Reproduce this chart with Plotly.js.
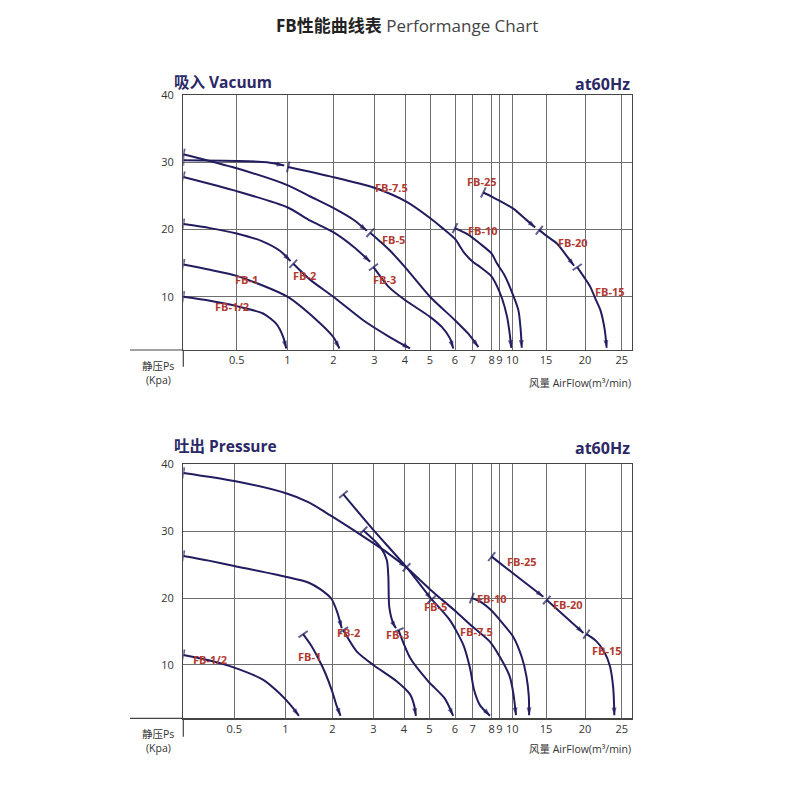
<!DOCTYPE html>
<html><head><meta charset="utf-8">
<script src="https://cdn.plot.ly/plotly-3.0.1.min.js"></script>
<style>html,body{margin:0;padding:0;background:#fff}#chart{width:800px;height:800px}</style>
</head><body><div id="chart"></div>
<script>
// ---- axis ticks ----
const flowTicks = [0, 0.5, 1, 2, 3, 4, 5, 6, 7, 8, 9, 10, 15, 20, 25];
const tickLabels = ['', '0.5', '1', '2', '3', '4', '5', '6', '7', '8', '9', '10', '15', '20', '25'];
const kpaTicks = [10, 20, 30, 40];

// ---- Vacuum (吸入) curves: airflow m³/min, static pressure kPa ----
const vacFB05Flow = [0, 0.25, 0.5, 0.76, 0.89, 0.96, 0.99];
const vacFB05Kpa  = [10, 9.4, 8.6, 7.5, 6.0, 4.0, 2.3];
const vacFB1Flow  = [0, 0.25, 0.5, 1.0, 1.64, 2.0, 2.15];
const vacFB1Kpa   = [14.8, 14.0, 13.1, 10.0, 6.5, 4.0, 2.3];
const vacA2Flow   = [0, 0.25, 0.5, 0.76, 0.93, 1.07];
const vacA2Kpa    = [20.8, 20.2, 19.4, 18.2, 16.8, 15.3];
const vacFB2Flow  = [1.13, 1.5, 2.0, 2.73, 3.5, 4.2];
const vacFB2Kpa   = [14.9, 12.5, 10.0, 6.5, 4.0, 2.3];
const vacA3Flow   = [0, 0.5, 1.0, 1.5, 2.0, 2.5, 2.9];
const vacA3Kpa    = [27.8, 25.7, 23.3, 21.3, 19.6, 17.4, 15.2];
const vacFB3Flow  = [2.98, 3.2, 3.46, 4.0, 5.0, 5.47, 5.8, 5.93];
const vacFB3Kpa   = [14.4, 13.0, 11.5, 9.5, 7.0, 5.5, 3.8, 2.3];
const vacA5Flow   = [0, 0.5, 1.0, 1.5, 2.0, 2.5, 2.82];
const vacA5Kpa    = [31.2, 29.1, 26.6, 24.9, 23.2, 21.4, 19.8];
const vacFB5Flow  = [2.9, 3.5, 4.0, 5.0, 6.0, 6.75, 7.3];
const vacFB5Kpa   = [19.5, 16.9, 14.4, 10.0, 6.5, 4.5, 2.5];
const vacA75Flow  = [0, 0.5, 0.8, 0.97];
const vacA75Kpa   = [30.3, 30.2, 30.0, 29.5];
const vacFB75Flow = [1.02, 1.93, 3.0, 4.07, 5.0, 5.5, 6.0, 6.5, 7.0, 7.4, 8.0, 8.6, 9.2, 9.6, 9.8, 9.92];
const vacFB75Kpa  = [29.3, 27.9, 26.2, 24.1, 21.7, 20.2, 18.6, 16.6, 15.2, 14.4, 13.0, 11.8, 9.8, 7.0, 4.5, 2.4];
const vacFB10Flow = [6.0, 6.7, 7.38, 8.0, 8.66, 9.4, 9.8, 10.9, 11.25, 11.4];
const vacFB10Kpa  = [20.2, 19.3, 17.9, 16.4, 15.0, 13.2, 11.5, 8.0, 5.0, 2.4];
const vacFB25Flow = [7.56, 8.0, 9.0, 10.15, 12.0, 13.4];
const vacFB25Kpa  = [25.5, 24.9, 24.3, 23.1, 21.5, 20.3];
const vacFB20Flow = [14.0, 15.0, 16.4, 17.5, 18.6];
const vacFB20Kpa  = [19.9, 19.1, 17.9, 16.3, 14.6];
const vacFB15Flow = [19.0, 20.0, 20.7, 21.5, 22.1, 22.7, 22.95];
const vacFB15Kpa  = [14.4, 12.7, 11.5, 9.5, 8.0, 5.0, 2.4];

// ---- Pressure (吐出) curves ----
const preFB05Flow = [0, 0.25, 0.5, 0.78, 0.94, 1.1, 1.29];
const preFB05Kpa  = [11.5, 10.7, 9.6, 7.8, 5.8, 4.1, 2.4];
const preFB1Flow  = [1.38, 1.55, 1.7, 1.85, 2.0, 2.1, 2.2];
const preFB1Kpa   = [14.6, 12.9, 11.0, 8.8, 6.0, 4.0, 2.4];
const preA2Flow   = [0, 0.25, 0.5, 1, 1.5, 1.75, 1.98, 2.12, 2.23];
const preA2Kpa    = [26.3, 25.6, 24.8, 23.2, 22.3, 21.3, 19.9, 17.9, 15.5];
const preFB2Flow  = [2.27, 2.6, 3.0, 3.75, 4.24, 4.4, 4.47];
const preFB2Kpa   = [15.2, 12.0, 10.0, 7.6, 5.6, 4.0, 2.4];
const preA3Flow   = [2.76, 3.22, 3.44, 3.49, 3.52, 3.65, 3.74];
const preA3Kpa    = [30.1, 27.7, 25.7, 23.2, 18.7, 16.2, 15.5];
const preFB3Flow  = [3.82, 4.25, 4.95, 5.6, 5.93];
const preFB3Kpa   = [15.2, 11.0, 7.6, 5.0, 2.4];
const preA75Flow  = [0, 0.5, 1, 1.5, 1.95, 2.76, 3.33, 4.1];
const preA75Kpa   = [38.7, 37.5, 35.7, 34.3, 32.4, 29.2, 27.2, 24.6];
const preFB75Flow = [4.1, 5.03, 6.0, 7.0, 7.9, 9.05, 9.8, 10.15, 10.55];
const preFB75Kpa  = [24.6, 21.3, 18.1, 15.7, 13.5, 11.2, 8.3, 5.8, 2.5];
const preA5Flow   = [2.27, 3.0, 4.1, 5.09];
const preA5Kpa    = [35.5, 30.2, 24.6, 19.8];
const preFB5Flow  = [5.09, 5.8, 6.47, 6.85, 7.07, 7.38, 7.91];
const preFB5Kpa   = [19.8, 16.7, 13.0, 9.5, 6.3, 4.0, 2.4];
const preFB10Flow = [6.95, 7.38, 8.0, 9.05, 10.15, 11.4, 12.1, 12.45, 12.5];
const preFB10Kpa  = [20.0, 19.5, 18.1, 16.7, 14.2, 11.2, 8.3, 5.3, 2.5];
const preFB25Flow = [8.0, 9.0, 10.0, 14.6];
const preFB25Kpa  = [26.2, 25.3, 23.8, 20.2];
const preFB20Flow = [15.1, 19.8];
const preFB20Kpa  = [19.7, 14.8];
const preFB15Flow = [20.2, 21.5, 22.6, 23.4, 23.85, 24.0];
const preFB15Kpa  = [14.6, 13.6, 12.0, 9.8, 6.5, 2.5];

// ---- model labels ----
const vacLabelText = ['FB-1/2', 'FB-1', 'FB-2', 'FB-3', 'FB-5', 'FB-7.5', 'FB-10', 'FB-25', 'FB-20', 'FB-15'];
const vacLabelFlow = [0.46, 0.6, 1.38, 3.32, 3.62, 3.57, 7.53, 7.47, 18.5, 23.4];
const vacLabelKpa  = [8.5, 12.6, 13.2, 12.5, 18.5, 26.3, 19.9, 27.1, 18.0, 10.7];
const preLabelText = ['FB-1/2', 'FB-1', 'FB-2', 'FB-3', 'FB-5', 'FB-7.5', 'FB-10', 'FB-25', 'FB-20', 'FB-15'];
const preLabelFlow = [0.26, 1.52, 2.39, 3.8, 5.26, 7.2, 8.0, 11.4, 17.85, 22.95];
const preLabelKpa  = [10.75, 11.3, 14.8, 14.6, 18.8, 15.0, 20.0, 25.4, 19.0, 12.1];

// ---- scale of the hand-drawn (non-uniform) airflow axis ----
const topScale = [0, 53.4, 104, 150, 191, 221.7, 246.7, 271.7, 289.4, 308.4, 316, 329, 362.7, 401.7, 438.4];
const botScale = [0, 51, 102, 149, 190, 220.7, 246, 271.7, 289.4, 308.4, 316, 329, 362.7, 401.7, 438.4];
const xEnd = 448.4;

function toPos(f, sc) {
  const n = flowTicks.length;
  for (let i = 0; i < n - 1; i++) {
    if (f <= flowTicks[i + 1]) {
      return sc[i] + (f - flowTicks[i]) / (flowTicks[i + 1] - flowTicks[i]) * (sc[i + 1] - sc[i]);
    }
  }
  return sc[n - 1] + (f - flowTicks[n - 1]) / (flowTicks[n - 1] - flowTicks[n - 2]) * (sc[n - 1] - sc[n - 2]);
}

const NAVY = '#211d5e';
const RED = '#b23a30';

function seg(flow, kpa, sc, xa, ya, out) {
  const n = flow.length;
  const xs = flow.map(f => toPos(f, sc));
  const size = flow.map((_, i) => i === n - 1 ? 8 : 0);
  const sym = flow.map((_, i) => i === n - 1 ? 'arrow' : 'circle');
  out.push({
    x: xs, y: kpa, xaxis: xa, yaxis: ya,
    type: 'scatter', mode: 'lines+markers', hoverinfo: 'skip', showlegend: false,
    line: {color: NAVY, width: 2, shape: 'spline', smoothing: 0.7},
    marker: {symbol: sym, size: size, angleref: 'previous', color: NAVY, line: {width: 0}}
  });
  // short perpendicular tick at the start of each segment
  out.push({
    x: [xs[1], xs[0]], y: [kpa[1], kpa[0]], xaxis: xa, yaxis: ya,
    type: 'scatter', mode: 'markers', hoverinfo: 'skip', showlegend: false,
    marker: {symbol: ['circle', 'line-ew'], size: [0, 8], angleref: 'previous', color: NAVY,
             line: {color: NAVY, width: 2}}
  });
}

const vacSegs = [
  [vacFB05Flow, vacFB05Kpa], [vacFB1Flow, vacFB1Kpa], [vacA2Flow, vacA2Kpa], [vacFB2Flow, vacFB2Kpa],
  [vacA3Flow, vacA3Kpa], [vacFB3Flow, vacFB3Kpa], [vacA5Flow, vacA5Kpa], [vacFB5Flow, vacFB5Kpa],
  [vacA75Flow, vacA75Kpa], [vacFB75Flow, vacFB75Kpa], [vacFB10Flow, vacFB10Kpa],
  [vacFB25Flow, vacFB25Kpa], [vacFB20Flow, vacFB20Kpa], [vacFB15Flow, vacFB15Kpa]
];
const preSegs = [
  [preFB05Flow, preFB05Kpa], [preFB1Flow, preFB1Kpa], [preA2Flow, preA2Kpa], [preFB2Flow, preFB2Kpa],
  [preA3Flow, preA3Kpa], [preFB3Flow, preFB3Kpa], [preA75Flow, preA75Kpa], [preFB75Flow, preFB75Kpa],
  [preA5Flow, preA5Kpa], [preFB5Flow, preFB5Kpa], [preFB10Flow, preFB10Kpa],
  [preFB25Flow, preFB25Kpa], [preFB20Flow, preFB20Kpa], [preFB15Flow, preFB15Kpa]
];

const traces = [];
vacSegs.forEach(s => seg(s[0], s[1], topScale, 'x', 'y', traces));
preSegs.forEach(s => seg(s[0], s[1], botScale, 'x2', 'y2', traces));

const FONT = '"Open Sans", "Noto Sans CJK SC", sans-serif';
const annotations = [];
vacLabelText.forEach((t, i) => annotations.push({
  text: '<b>' + t + '</b>', x: toPos(vacLabelFlow[i], topScale), y: vacLabelKpa[i], xref: 'x', yref: 'y',
  showarrow: false, font: {family: FONT, size: 11, color: RED}
}));
preLabelText.forEach((t, i) => annotations.push({
  text: '<b>' + t + '</b>', x: toPos(preLabelFlow[i], botScale), y: preLabelKpa[i], xref: 'x2', yref: 'y2',
  showarrow: false, font: {family: FONT, size: 11, color: RED}
}));

function paperText(text, x, y, xanchor, size, color) {
  annotations.push({text: text, x: x, y: y, xref: 'paper', yref: 'paper', xanchor: xanchor, yanchor: 'middle',
    showarrow: false, font: {family: FONT, size: size, color: color}});
}
const TNAVY = '#2b2866';
paperText('<b>FB性能曲线表</b> <span style="color:#444">Performange Chart</span>', 0.509, 1 - 25.7 / 800, 'center', 17, '#222');
paperText('<b>吸入 Vacuum</b>', 172 / 800, 1 - 82 / 800, 'left', 15.5, TNAVY);
paperText('<b>at60Hz</b>', 631.5 / 800, 1 - 84 / 800, 'right', 16, TNAVY);
paperText('<b>吐出 Pressure</b>', 172 / 800, 1 - 445.7 / 800, 'left', 15.5, TNAVY);
paperText('<b>at60Hz</b>', 631.5 / 800, 1 - 448.3 / 800, 'right', 16, TNAVY);
paperText('静压Ps', 158 / 800, 1 - 366 / 800, 'center', 10.5, '#333');
paperText('(Kpa)', 158 / 800, 1 - 380 / 800, 'center', 10.5, '#333');
paperText('风量 AirFlow(m³/min)', 632.5 / 800, 1 - 383.3 / 800, 'right', 10.5, '#333');
paperText('静压Ps', 158 / 800, 1 - 734.3 / 800, 'center', 10.5, '#333');
paperText('(Kpa)', 158 / 800, 1 - 747.5 / 800, 'center', 10.5, '#333');
paperText('风量 AirFlow(m³/min)', 632.5 / 800, 1 - 749.3 / 800, 'right', 10.5, '#333');

const xdom = [183.3 / 800, 631.7 / 800];
const yTopDom = [1 - 350 / 800, 1 - 95 / 800];
const yBotDom = [1 - 718.3 / 800, 1 - 464.3 / 800];

function xAxis(sc, anchor) {
  return {domain: xdom, range: [0, xEnd], anchor: anchor, tickmode: 'array',
    tickvals: sc.slice(1), ticktext: tickLabels.slice(1), tickangle: 0,
    showgrid: true, gridcolor: '#6e6e6e', gridwidth: 1,
    showline: true, linecolor: '#444', linewidth: 1.2, mirror: true, zeroline: false, ticks: '',
    tickfont: {family: FONT, size: 11, color: '#333'}, fixedrange: true};
}
function yAxis(dom, lo, anchor) {
  return {domain: dom, range: [lo, 40], anchor: anchor, tickmode: 'array', tickvals: kpaTicks,
    showgrid: true, gridcolor: '#6e6e6e', gridwidth: 1, showline: true, linecolor: '#444', linewidth: 1.2,
    mirror: true, zeroline: false, ticks: '', ticklabelstandoff: 6,
    tickfont: {family: FONT, size: 11, color: '#333'}, fixedrange: true};
}

const shapes = [
  {type: 'line', xref: 'paper', yref: 'paper', x0: 130 / 800, x1: 183.3 / 800, y0: 1 - 350 / 800, y1: 1 - 350 / 800, line: {color: '#444', width: 1.2}},
  {type: 'line', xref: 'paper', yref: 'paper', x0: 183.3 / 800, x1: 183.3 / 800, y0: 1 - 350 / 800, y1: 1 - 366.7 / 800, line: {color: '#444', width: 1.2}},
  {type: 'line', xref: 'paper', yref: 'paper', x0: 130 / 800, x1: 183.3 / 800, y0: 1 - 718.3 / 800, y1: 1 - 718.3 / 800, line: {color: '#444', width: 1.2}},
  {type: 'line', xref: 'paper', yref: 'paper', x0: 183.3 / 800, x1: 183.3 / 800, y0: 1 - 718.3 / 800, y1: 1 - 736.7 / 800, line: {color: '#444', width: 1.2}}
];

const layout = {
  width: 800, height: 800, margin: {l: 0, r: 0, t: 0, b: 0},
  paper_bgcolor: '#fff', plot_bgcolor: '#fff', showlegend: false,
  xaxis: xAxis(topScale, 'y'), yaxis: yAxis(yTopDom, 2.07, 'x'),
  xaxis2: xAxis(botScale, 'y2'), yaxis2: yAxis(yBotDom, 2.03, 'x2'),
  annotations: annotations, shapes: shapes
};

Plotly.newPlot('chart', traces, layout, {staticPlot: true, displayModeBar: false});
</script></body></html>
